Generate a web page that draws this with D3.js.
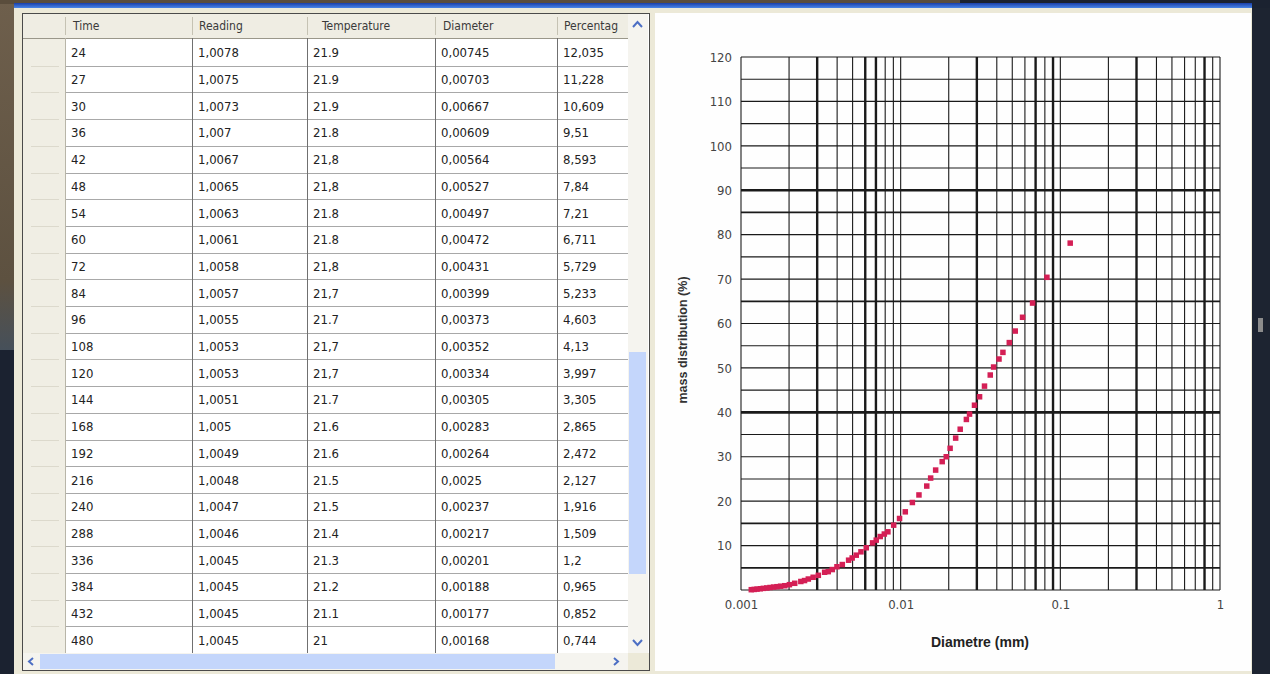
<!DOCTYPE html>
<html><head><meta charset="utf-8">
<script src="https://cdn.jsdelivr.net/npm/d3@7"></script>
<style>
html,body{margin:0;padding:0;background:#1b2230;overflow:hidden}
svg{display:block}
.narrow{font-family:"Liberation Sans Narrow","Arial Narrow","DejaVu Sans Condensed",sans-serif}
</style></head><body>
<svg id="c" width="1270" height="674"></svg>
<script>
// ---- table data (visible rows) ----
const time = [24,27,30,36,42,48,54,60,72,84,96,108,120,144,168,192,216,240,288,336,384,432,480];
const reading = [1.0078,1.0075,1.0073,1.007,1.0067,1.0065,1.0063,1.0061,1.0058,1.0057,1.0055,1.0053,1.0053,1.0051,1.005,1.0049,1.0048,1.0047,1.0046,1.0045,1.0045,1.0045,1.0045];
const temperature = ["21.9","21.9","21.9","21.8","21,8","21,8","21.8","21.8","21,8","21,7","21.7","21,7","21,7","21.7","21.6","21.6","21.5","21.5","21.4","21.3","21.2","21.1","21"];
const diameter = [0.00745,0.00703,0.00667,0.00609,0.00564,0.00527,0.00497,0.00472,0.00431,0.00399,0.00373,0.00352,0.00334,0.00305,0.00283,0.00264,0.0025,0.00237,0.00217,0.00201,0.00188,0.00177,0.00168];
const percentage = [12.035,11.228,10.609,9.51,8.593,7.84,7.21,6.711,5.729,5.233,4.603,4.13,3.997,3.305,2.865,2.472,2.127,1.916,1.509,1.2,0.965,0.852,0.744];
const columns = ["Time","Reading","Temperature","Diameter","Percentag"];

// ---- plotted points not visible in the table ----
const earlyDiameter = [0.1153,0.0824,0.0670,0.0580,0.0522,0.0479,0.0437,0.0413,0.0382,0.0364,0.0335,0.0312,0.0290,0.0270,0.0258,0.0236,0.0221,0.0204,0.0193,0.0182,0.01656,0.01541,0.01457,0.01302,0.01184,0.01069,0.00984,0.00904,0.00832,0.00790];
const earlyPercentage = [78.1,70.4,64.6,61.4,58.3,55.7,53.5,52.0,50.2,48.4,45.9,43.5,41.6,39.6,38.4,36.2,34.2,31.9,30.0,28.9,27.0,25.2,23.4,21.4,19.7,17.6,16.1,14.6,13.1,12.6];
const lateDiameter = [0.00160,0.00152,0.00145,0.00138,0.00132,0.00126,0.00121,0.00116];
const latePercentage = [0.66,0.56,0.46,0.37,0.28,0.20,0.13,0.07];

// ---- axes ----
const xTickValues = [0.001,0.01,0.1,1];
const xTickLabels = ["0.001","0.01","0.1","1"];
const yTickValues = [10,20,30,40,50,60,70,80,90,100,110,120];
const heavyX = [0.003,0.006,0.007,0.03,0.07,0.09,0.3,0.8];
const heavyY = [90,40];
const mediumY = [85,65,15,5];

const svg = d3.select("#c");
const fmt = v => String(v).replace(".", ",");

// ---- window / desktop chrome ----
const defs = svg.append("defs");
const g1 = defs.append("linearGradient").attr("id","blue").attr("x1",0).attr("x2",0).attr("y1",0).attr("y2",1);
g1.append("stop").attr("offset",0).attr("stop-color","#1a3fa8");
g1.append("stop").attr("offset",1).attr("stop-color","#4a86e8");
const g2 = defs.append("linearGradient").attr("id","desk").attr("x1",0).attr("x2",0).attr("y1",0).attr("y2",1);
g2.append("stop").attr("offset",0).attr("stop-color","#6e5f4c");
g2.append("stop").attr("offset",0.8).attr("stop-color","#5d5140");
g2.append("stop").attr("offset",1).attr("stop-color","#46505a");

svg.append("rect").attr("width",1270).attr("height",674).attr("fill","#1b2230");
svg.append("rect").attr("x",0).attr("y",0).attr("width",24).attr("height",350).attr("fill","url(#desk)");
svg.append("rect").attr("x",0).attr("y",0).attr("width",960).attr("height",4).attr("fill","#5a4d3c");
svg.append("rect").attr("x",14).attr("y",3).attr("width",1238).attr("height",5).attr("fill","url(#blue)");
svg.append("rect").attr("x",14).attr("y",8).attr("width",1238).attr("height",666).attr("fill","#ece9d8");
// right edge marker
svg.append("rect").attr("x",1252).attr("y",8).attr("width",18).attr("height",666).attr("fill","#1d2431");
svg.append("rect").attr("x",1258).attr("y",318).attr("width",5).attr("height",14).attr("fill","#8c8c8c");

// ---- table ----
const T = {x0:23, y0:14, headH:24, rowH:26.7, colX:[65,192,307,435,557,628], right:648, bottom:670};
const tg = svg.append("g").attr("class","narrow");
tg.append("rect").attr("x",22.5).attr("y",13.5).attr("width",627).attr("height",657).attr("fill","#fff").attr("stroke","#4a4a4a");
tg.append("rect").attr("x",T.x0).attr("y",T.y0).attr("width",T.colX[5]-T.x0).attr("height",T.headH).attr("fill","#efede3");
tg.append("rect").attr("x",T.x0).attr("y",T.y0+T.headH).attr("width",T.colX[0]-T.x0).attr("height",615).attr("fill","#f0eee4");
tg.append("line").attr("x1",T.x0).attr("x2",T.colX[5]).attr("y1",T.y0+T.headH+0.5).attr("y2",T.y0+T.headH+0.5).attr("stroke","#9a978a");

const rows = time.map((t,i)=>[String(t), fmt(reading[i]), temperature[i], fmt(diameter[i]), fmt(percentage[i])]);
const rowY = i => T.y0 + T.headH + 1 + i*T.rowH;

// row separators
rows.forEach((r,i)=>{
  const y = Math.round(rowY(i+1))+0.5;
  tg.append("line").attr("x1",T.colX[0]).attr("x2",T.colX[5]).attr("y1",y).attr("y2",y).attr("stroke","#a8a8a8");
  tg.append("line").attr("x1",T.x0+8).attr("x2",T.colX[0]-6).attr("y1",y).attr("y2",y).attr("stroke","#dcd9cc");
});
// column separators
T.colX.slice(0,5).forEach((cx,j)=>{
  tg.append("line").attr("x1",cx+0.5).attr("x2",cx+0.5).attr("y1",T.y0+T.headH).attr("y2",653).attr("stroke",j===0?"#b8b5a8":"#707070");
  tg.append("line").attr("x1",cx+0.5).attr("x2",cx+0.5).attr("y1",T.y0+3).attr("y2",T.y0+T.headH-3).attr("stroke","#c5c2b3");
});
// header text
const headOff = [8,7,15,8,7];
columns.forEach((c,j)=>{
  tg.append("text").attr("x",T.colX[j]+headOff[j]).attr("y",T.y0+16).attr("font-size",12).attr("fill","#3a3a3a").text(c);
});
// cells
rows.forEach((r,i)=>{
  r.forEach((v,j)=>{
    tg.append("text").attr("x",T.colX[j]+6).attr("y",rowY(i)+T.rowH/2+5).attr("font-size",13).attr("fill","#222").text(v);
  });
});
// vertical scrollbar
tg.append("rect").attr("x",628).attr("y",14).attr("width",20).attr("height",639).attr("fill","#f5f4ef");
tg.append("rect").attr("x",629).attr("y",352).attr("width",17).attr("height",222).attr("fill","#c4d6fb");
tg.append("path").attr("d","M633,27 L637.5,22 L642,27").attr("fill","none").attr("stroke","#4d6fc4").attr("stroke-width",2);
tg.append("path").attr("d","M633,640 L637.5,645 L642,640").attr("fill","none").attr("stroke","#4d6fc4").attr("stroke-width",2);
// horizontal scrollbar
tg.append("rect").attr("x",23).attr("y",653).attr("width",605).attr("height",17).attr("fill","#f5f4ef");
tg.append("rect").attr("x",40).attr("y",654).attr("width",515).attr("height",15).attr("fill","#c4d6fb");
tg.append("path").attr("d","M33,658 L29,661.5 L33,665").attr("fill","none").attr("stroke","#4d6fc4").attr("stroke-width",2);
tg.append("path").attr("d","M614,658 L618,661.5 L614,665").attr("fill","none").attr("stroke","#4d6fc4").attr("stroke-width",2);
tg.append("rect").attr("x",628).attr("y",653).attr("width",21).attr("height",17).attr("fill","#ece9d8");

// ---- chart panel ----
svg.append("rect").attr("x",655).attr("y",13).attr("width",596).attr("height",658).attr("fill","#fefefe");

const x = d3.scaleLog().domain([0.001,1]).range([741,1220]);
const y = d3.scaleLinear().domain([0,120]).range([590,57]);
const cg = svg.append("g");

// vertical grid (log minor ticks)
const xGrid = x.ticks();
cg.selectAll("line.vx").data(xGrid).join("line")
  .attr("x1",d=>x(d)).attr("x2",d=>x(d)).attr("y1",y(120)).attr("y2",y(0))
  .attr("stroke","#1a1a1a")
  .attr("stroke-width",d=>heavyX.some(h=>Math.abs(h-d)/h<1e-6)?2.4:1.1);
// horizontal grid every 5
const yGrid = d3.range(0,121,5);
cg.selectAll("line.hy").data(yGrid).join("line")
  .attr("x1",x(0.001)).attr("x2",x(1)).attr("y1",d=>y(d)).attr("y2",d=>y(d))
  .attr("stroke","#1a1a1a")
  .attr("stroke-width",d=>heavyY.includes(d)?2.6:(mediumY.includes(d)?1.7:1.1));

// axes (labels only)
const xAxis = d3.axisBottom(x).tickValues(xTickValues).tickFormat((d,i)=>xTickLabels[i]).tickSize(0).tickPadding(10);
const xa = cg.append("g").attr("transform",`translate(0,${y(0)})`).call(xAxis);
xa.select(".domain").remove();
xa.selectAll("text").attr("class","narrow").attr("font-size",13).attr("fill","#444");
const yAxis = d3.axisLeft(y).tickValues(yTickValues).tickSize(0).tickPadding(9);
const ya = cg.append("g").attr("transform",`translate(${x(0.001)},0)`).call(yAxis);
ya.select(".domain").remove();
ya.selectAll("text").attr("class","narrow").attr("font-size",13).attr("fill","#444");

// axis titles
cg.append("text").attr("x",980).attr("y",647).attr("text-anchor","middle")
  .attr("font-family","Liberation Sans, Arial, sans-serif").attr("font-weight","bold").attr("font-size",14).attr("fill","#222")
  .text("Diametre (mm)");
cg.append("text").attr("transform","translate(687,340) rotate(-90)").attr("text-anchor","middle")
  .attr("font-family","Liberation Sans, Arial, sans-serif").attr("font-weight","bold").attr("font-size",12.5).attr("fill","#333")
  .text("mass distribution (%)");

// points
const pts = [];
earlyDiameter.forEach((d,i)=>pts.push([d,earlyPercentage[i]]));
diameter.forEach((d,i)=>pts.push([d,percentage[i]]));
lateDiameter.forEach((d,i)=>pts.push([d,latePercentage[i]]));
const s = 5.5;
cg.selectAll("rect.pt").data(pts).join("rect")
  .attr("x",d=>x(d[0])-s/2).attr("y",d=>y(d[1])-s/2).attr("width",s).attr("height",s)
  .attr("fill","#d41f55");
</script></body></html>
